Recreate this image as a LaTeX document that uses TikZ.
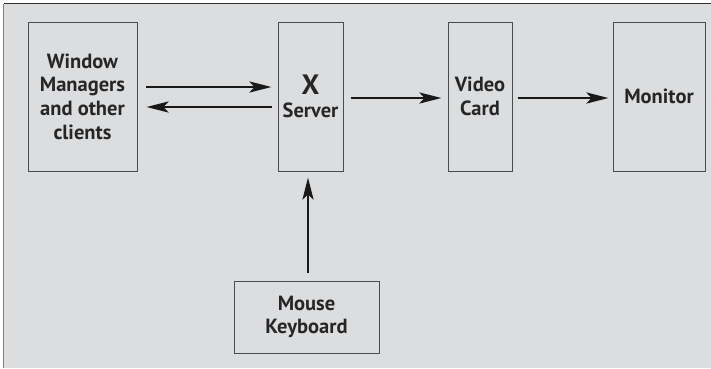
\documentclass[tikz,border=0pt]{standalone}
\usepackage{fontspec}
\setmainfont{PT Sans}
\usetikzlibrary{arrows.meta}
\definecolor{panel}{HTML}{DCDDDF}
\definecolor{edge}{HTML}{4A4A4A}
\begin{document}
\begin{tikzpicture}[x=1pt,y=-1pt,
  blk/.style={draw=edge,line width=1pt,fill=panel,inner sep=0pt,
    font=\fontsize{20.5}{23.7}\selectfont\bfseries,text=black!85,align=center},
  flow/.style={line width=2.8pt,draw=black!90,
    -{Stealth[length=22pt,width=11pt,inset=5pt]}}]
  % page and grey panel
  \useasboundingbox (0,0) rectangle (711,368);
  \fill[white] (0,0) rectangle (711,368);
  \fill[panel] (3.5,4) rectangle (711,368);
  \draw[black!80,line width=1.5pt] (3.5,3.5) -- (711,3.5);
  \draw[black!50,line width=1.5pt] (3.5,3.5) -- (3.5,368);
  % blocks
  \node[blk,minimum width=109pt,minimum height=149pt] (wm) at (82.5,96.5)
    {Window\\Managers\\and other\\clients};
  \node[blk,minimum width=65pt,minimum height=149pt] (xs) at (310.5,96.5)
    {{\fontsize{28}{28}\selectfont X}\\[-1pt]Server};
  \node[blk,minimum width=64pt,minimum height=149pt] (vc) at (480,96.5)
    {Video\\Card};
  \node[blk,minimum width=92pt,minimum height=149pt] (mon) at (659,96.5)
    {Monitor};
  \node[blk,minimum width=145pt,minimum height=72pt] (mk) at (306.5,317)
    {Mouse\\Keyboard};
  % connectors (explicit pt shifts are in page orientation: positive is up)
  \draw[flow] ([shift={(8pt,9.5pt)}]wm.east) -- ([shift={(-6pt,9.5pt)}]xs.west);
  \draw[flow] ([shift={(-6pt,-10.5pt)}]xs.west) -- ([shift={(9pt,-10.5pt)}]wm.east);
  \draw[flow] ([shift={(7pt,-1.5pt)}]xs.east) -- ([shift={(-6pt,-1.5pt)}]vc.west);
  \draw[flow] ([shift={(5pt,-1.5pt)}]vc.east) -- ([shift={(-4pt,-1.5pt)}]mon.west);
  \draw[flow] ([shift={(1.5pt,8pt)}]mk.north) -- ([shift={(-2.5pt,-6pt)}]xs.south);
\end{tikzpicture}
\end{document}
